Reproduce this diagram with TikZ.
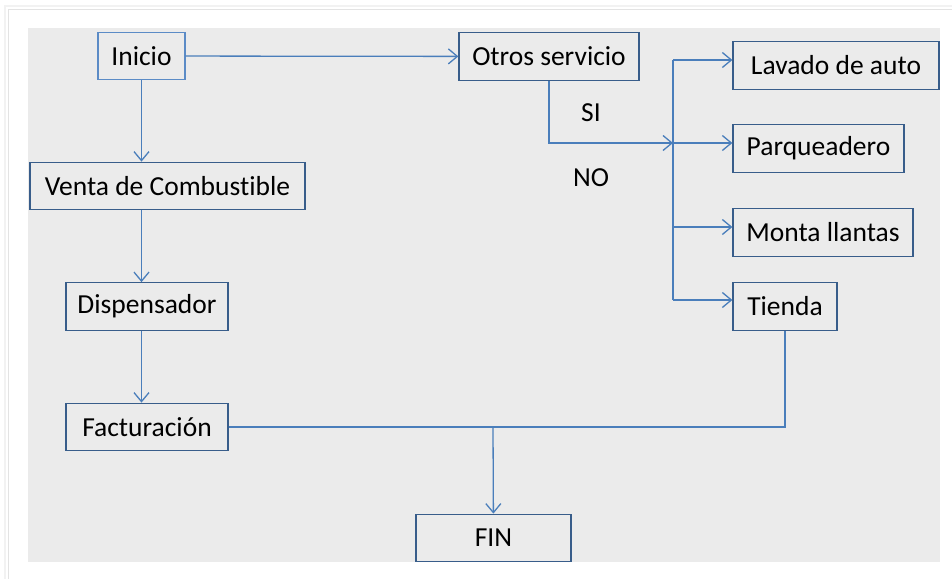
\documentclass[tikz,border=0pt]{standalone}
\usepackage{fontspec}
\setmainfont[Ligatures=NoCommon]{Carlito}
\usetikzlibrary{arrows.meta}
\definecolor{panelgray}{HTML}{EBEBEB}
\definecolor{boxblue}{HTML}{385D8A}
\definecolor{lineblue}{HTML}{4A7EBB}
\definecolor{startblue}{HTML}{5B8BC6}
\begin{document}
\begin{tikzpicture}[x=1pt,y=-1pt]

\tikzstyle{step box} = [draw=boxblue,line width=1.3pt,minimum height=47.5pt,inner sep=0pt,font=\fontsize{27.5}{31}\selectfont];
\tikzstyle{flow} = [draw=lineblue,line width=1.3pt];
\tikzstyle{flowarrow} = [flow,-{Straight Barb[length=9pt,width=15pt]}];

% page and panel
\useasboundingbox (0,0) rectangle (952,579);
\fill[white] (0,0) rectangle (952,579);
\draw[gray!10,line width=2pt] (5,579) -- (5,6) -- (952,6);
\draw[gray!22,line width=1pt] (8.5,579) -- (8.5,9.5) -- (952,9.5);
\fill[panelgray] (28,28) rectangle (940,562);

\node[step box,draw=startblue,minimum width=87pt] (v1) at (141.5,56) {Inicio};
\node[step box,minimum width=275pt] (v2) at (167.5,186) {Venta de Combustible};
\node[step box,minimum width=162pt] (v3) at (147,306.5) {Dispensador};
\node[step box,minimum width=162pt] (v4) at (147,427) {Facturación};
\node[step box,minimum width=180pt] (v5) at (549,56.5) {Otros servicio};
\node[step box,minimum width=206pt] (v6) at (836,65.5) {Lavado de auto};
\node[step box,minimum width=171pt] (v7) at (818.5,148.5) {Parqueadero};
\node[step box,minimum width=180pt] (v8) at (823,232.5) {Monta llantas};
\node[step box,minimum width=104pt] (v9) at (785,306.5) {Tienda};
\node[step box,minimum width=155pt] (v10) at (493.5,538) {FIN};

\node[font=\fontsize{27.5}{31}\selectfont] (si) at (591,113) {SI};
\node[font=\fontsize{27.5}{31}\selectfont] (no) at (591,178) {NO};

\coordinate (t1) at (673,60);
\coordinate (t2) at (673,143);
\coordinate (t3) at (673,227);
\coordinate (t4) at (673,300);
\coordinate (merge) at (493,427);

% left column
\draw[flowarrow] (v1) -- (v1 |- v2.north);
\draw[flowarrow] (v1 |- v2.south) -- (v1 |- v3.north);
\draw[flowarrow] (v1 |- v3.south) -- (v1 |- v4.north);
\draw[flowarrow] (v1) -- (v5);

% other services
\draw[flowarrow] (v5) |- (t2);
\draw[flow] (t1) -- (t4);
\draw[flowarrow] (t1) -- (t1 -| v6.west);
\draw[flowarrow] (t2) -- (t2 -| v7.west);
\draw[flowarrow] (t3) -- (t3 -| v8.west);
\draw[flowarrow] (t4) -- (t4 -| v9.west);

% end
\draw[flow] (v9) |- (merge);
\draw[flow] (v4) -- (merge);
\draw[flowarrow] (merge) -- (v10);
\end{tikzpicture}
\end{document}
